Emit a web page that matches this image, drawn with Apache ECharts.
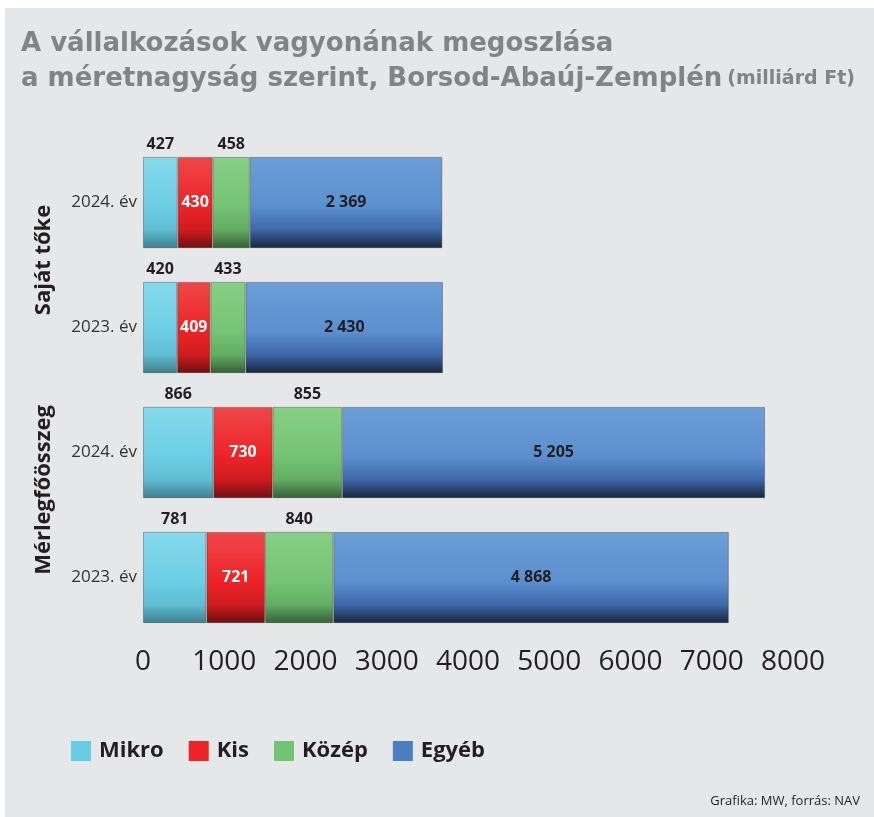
<!DOCTYPE html>
<html>
<head>
<meta charset="utf-8">
<script src="https://cdn.jsdelivr.net/npm/echarts@6/dist/echarts.min.js"></script>
<style>
  html, body { margin: 0; padding: 0; background: #fff; }
  #chart { width: 874px; height: 817px; }
</style>
</head>
<body>
<div id="chart"></div>
<script>
// adatok (milliárd Ft), fentről lefelé
const years = ['2024. év', '2023. év', '2024. év', '2023. év'];
const groups = ['Saját tőke', 'Mérlegfőösszeg'];
const mikro = [427, 420, 866, 781];
const kis = [430, 409, 730, 721];
const kozep = [458, 433, 855, 840];
const egyeb = [2369, 2430, 5205, 4868];
const xTicks = [0, 1000, 2000, 3000, 4000, 5000, 6000, 7000, 8000];

const FONT = '"Open Sans", "DejaVu Sans", sans-serif';
const TITLE_FONT = '"DejaVu Sans", sans-serif';
const DARK = '#231f20';

// ezres tagolás szóközzel
const fmt = v => String(v).replace(/\B(?=(\d{3})+(?!\d))/g, ' ');

// "domború" sáv színátmenettel
const shade = (top, mid, low, bottom) => new echarts.graphic.LinearGradient(0, 0, 0, 1, [
  { offset: 0, color: top },
  { offset: 0.55, color: mid },
  { offset: 0.8, color: low },
  { offset: 1, color: bottom }
]);

const makeSeries = (name, data, fill, label) => ({
  name,
  type: 'bar',
  stack: 'total',
  data,
  barCategoryGap: '27%',
  itemStyle: { color: fill, borderColor: 'rgba(40,40,40,0.35)', borderWidth: 1 },
  label: Object.assign({
    show: true,
    fontFamily: FONT,
    fontWeight: 'bold',
    fontSize: 16,
    formatter: p => fmt(p.value)
  }, label),
  emphasis: { disabled: true }
});

const legendItem = (name, color) => ({ name, itemStyle: { color, borderWidth: 0 } });

const chart = echarts.init(document.getElementById('chart'));

chart.setOption({
  animation: false,
  backgroundColor: '#ffffff',
  graphic: [
    { type: 'rect', z: -10, shape: { x: 5, y: 8, width: 869, height: 809 }, style: { fill: '#e6e7e8' } },
    {
      type: 'text', right: 14, bottom: 9,
      style: { text: 'Grafika: MW, forrás: NAV', font: '13px ' + FONT, fill: DARK }
    }
  ],
  title: {
    left: 16,
    top: 22,
    text: '{a|A vállalkozások vagyonának megoszlása}\n{a|a méretnagyság szerint, Borsod-Abaúj-Zemplén} {b|(milliárd Ft)}',
    textStyle: {
      rich: {
        a: { fontFamily: TITLE_FONT, fontWeight: 'bold', fontSize: 26, color: '#818386', lineHeight: 35 },
        b: { fontFamily: TITLE_FONT, fontWeight: 'bold', fontSize: 19, color: '#818386', lineHeight: 35 }
      }
    }
  },
  legend: {
    left: 66,
    top: 735,
    itemWidth: 20,
    itemHeight: 20,
    itemGap: 25,
    icon: 'rect',
    textStyle: { fontFamily: FONT, fontWeight: 'bold', fontSize: 22, color: DARK, padding: [0, 0, 0, 3] },
    data: [
      legendItem('Mikro', '#66cde2'),
      legendItem('Kis', '#ee2324'),
      legendItem('Közép', '#72c372'),
      legendItem('Egyéb', '#4a7fc1')
    ]
  },
  grid: { left: 143, right: 81, top: 140, height: 500, containLabel: false },
  xAxis: {
    type: 'value',
    min: xTicks[0],
    max: xTicks[xTicks.length - 1],
    interval: xTicks[1] - xTicks[0],
    axisLine: { show: false },
    axisTick: { show: false },
    splitLine: { show: false },
    axisLabel: { fontFamily: FONT, fontSize: 28, color: DARK, margin: 8, formatter: v => String(v) }
  },
  yAxis: [
    {
      type: 'category',
      inverse: true,
      data: years,
      axisLine: { show: false },
      axisTick: { show: false },
      axisLabel: { fontFamily: FONT, fontSize: 17, color: '#333', margin: 6 }
    },
    {
      type: 'category',
      inverse: true,
      position: 'left',
      offset: 88,
      // a csoportfeliratok kissé feljebb ülnek a sávpár közepénél
      data: groups.map((g, i) => ({ value: g, textStyle: { padding: [0, 0, 0, i ? 50 : 10] } })),
      axisLine: { show: false },
      axisTick: { show: false },
      axisLabel: { rotate: 90, fontFamily: FONT, fontWeight: 'bold', fontSize: 22, color: DARK, margin: 0 }
    }
  ],
  series: [
    makeSeries('Mikro', mikro,
      shade('#86d9ec', '#6ccde4', '#5fbcd3', '#3d7f8e'),
      { position: 'top', distance: 4, color: DARK }),
    makeSeries('Kis', kis,
      shade('#f0474a', '#ec2327', '#cf1c1f', '#6e1010'),
      { position: 'inside', color: '#ffffff' }),
    makeSeries('Közép', kozep,
      shade('#86cf84', '#74c474', '#62ad63', '#355f36'),
      { position: 'top', distance: 4, color: DARK }),
    makeSeries('Egyéb', egyeb,
      shade('#6c9fd6', '#5b8fcf', '#3d68a8', '#18253c'),
      { position: 'inside', color: DARK })
  ]
});
</script>
</body>
</html>
